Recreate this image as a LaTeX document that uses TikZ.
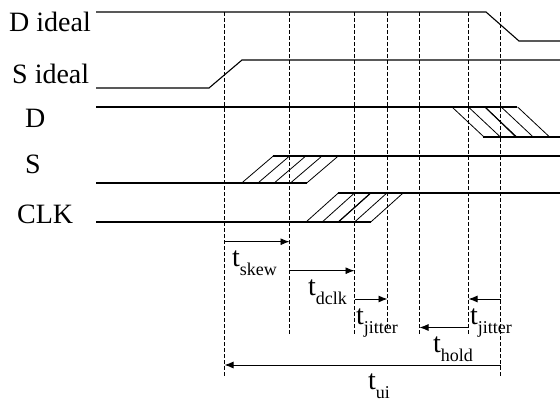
\documentclass[tikz,border=0pt]{standalone}
\usepackage{fontspec}
\setmainfont{Liberation Serif}
\usetikzlibrary{arrows.meta}
\tikzset{
  wave/.style   = {line width=1.1pt},
  hatch/.style  = {line width=0.8pt},
  marker/.style = {line width=0.7pt, dash pattern=on 4pt off 2pt},
  span/.style   = {line width=0.9pt, -{Latex[length=9pt,width=7pt]}},
  sigtext/.style = {anchor=base west, inner sep=0pt,
                    font=\fontsize{28}{30}\selectfont},
  timetext/.style = {anchor=base west, inner sep=0pt,
                     font=\fontsize{28}{30}\selectfont}
}
\newcommand{\tsub}[1]{t\raisebox{-9pt}{\fontsize{18}{18}\selectfont #1}}

\begin{document}
\begin{tikzpicture}[x=1pt, y=-1pt]
  \useasboundingbox (0,0) rectangle (560,404);
  % signal names
  \node [sigtext] (dideal) at (9,32)   {D ideal};
  \node [sigtext] (sideal) at (12,83.5) {S ideal};
  \node [sigtext] (dname)  at (25,128) {D};
  \node [sigtext] (sname)  at (25,173) {S};
  \node [sigtext] (clk)    at (17,223) {CLK};
  % ideal waveforms
  \draw [wave] (96,12) -- (486,12) -- (519,41) -- (560,41);
  \draw [wave] (96,88) -- (209,88) -- (242,60) -- (560,60);
  % D with uncertainty
  \draw [wave] (96,107) -- (517,107);
  \draw [wave] (483,137) -- (560,137);
  \foreach \k in {0,...,4}
    \draw [hatch] (452+16.4*\k,107) -- (484+16.4*\k,137);
  \draw [wave] (485,107) -- (516,137);
  % S with uncertainty
  \draw [wave] (96,183) -- (307,183);
  \draw [wave] (273,156) -- (560,156);
  \foreach \k in {0,...,4}
    \draw [hatch] (241.7+16.25*\k,183) -- (273.3+16.25*\k,156);
  % CLK with uncertainty
  \draw [wave] (96,222) -- (371,222);
  \draw [wave] (338,193) -- (560,193);
  \foreach \k in {0,...,4}
    \draw [hatch] (306+16.2*\k,222) -- (338.3+16.2*\k,193);
  \draw [wave] (338.3,222) -- (370.7,193);
  % time markers
  \foreach \x/\yb [count=\i] in {224.5/376, 289.5/335, 354.5/335, 387.5/330,
                                 419.5/335, 468.5/335, 500.5/376} {
    \coordinate (m\i) at (\x,12);
    \coordinate (e\i) at (\x,\yb);
    \draw [marker] (m\i) -- (e\i);
  }
  % intervals
  \draw [span] (m1 |- 0,241.7) -- (m2 |- 0,241.7);
  \draw [span] (m2 |- 0,270.7) -- (m3 |- 0,270.7);
  \draw [span] (m3 |- 0,299)   -- (m4 |- 0,299);
  \draw [span] (m7 |- 0,299)   -- (m6 |- 0,299);
  \draw [span] (m6 |- 0,327.5) -- (m5 |- 0,327.5);
  \draw [span, {Latex[length=9pt,width=7pt]}-] (m1 |- 0,365) -- (m7 |- 0,365);
  % interval names
  \node [timetext] (tskew) at (232,266)   {\tsub{skew}};
  \node [timetext] (tdclk) at (308,295)   {\tsub{dclk}};
  \node [timetext] (tjit1) at (356,324)   {\tsub{jitter}};
  \node [timetext] (thold) at (433,352)   {\tsub{hold}};
  \node [timetext] (tjit2) at (470,324)   {\tsub{jitter}};
  \node [timetext] (tui)   at (368,389)   {\tsub{ui}};
\end{tikzpicture}
\end{document}
